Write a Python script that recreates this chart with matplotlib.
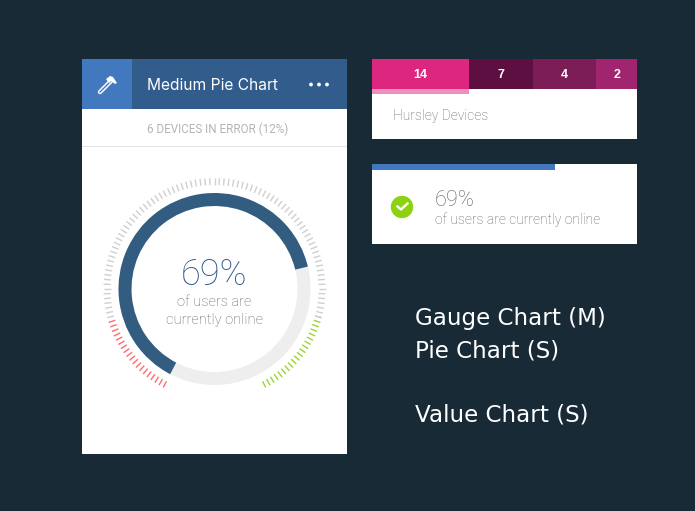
import numpy as np
import matplotlib
matplotlib.use('Agg')
import matplotlib.pyplot as plt
from matplotlib.patches import Rectangle, Circle, Polygon

W, H = 695, 511

# chart values
gauge_value = 69
gauge_label = '69%'
gauge_caption = 'of users are\ncurrently online'
gauge_sweep_deg = 229
error_text = '6 DEVICES IN ERROR (12%)'
title = 'Medium Pie Chart'

segment_labels = ['14', '7', '4', '2']
segment_shares = [36.6, 24.2, 23.8, 15.4]
segment_name = 'Hursley Devices'

value_percent = 69
value_caption = 'of users are currently online'

side_labels = ['Gauge Chart (M)', 'Pie Chart (S)', 'Value Chart (S)']

# colours
BG = '#172a36'
HEADER = '#325c8c'
ICON_BG = '#4178be'
RING = '#325c80'
TRACK = '#eeeeee'
GREY_TEXT = '#5f6669'
SEGMENT_COLORS = ['#dc267f', '#5d0f42', '#7c1d57', '#a0256e']

SANS = ['Roboto', 'Liberation Sans', 'DejaVu Sans']
BOLD = ['Liberation Sans', 'DejaVu Sans']
WIDE = ['Inter', 'DejaVu Sans']

fig = plt.figure(figsize=(W / 100, H / 100), dpi=100, facecolor=BG)
ax = fig.add_axes([0, 0, 1, 1])
ax.set_xlim(0, W)
ax.set_ylim(H, 0)
ax.axis('off')


def box(x, y, w, h, color, z=1):
    ax.add_patch(Rectangle((x, y), w, h, facecolor=color, edgecolor='none', zorder=z))


# main card
box(82, 59, 265, 395, 'white')
box(82, 59, 265, 50, HEADER, 2)
box(82, 59, 50, 50, ICON_BG, 3)
box(82, 146, 265, 1, '#e3e3e3', 2)

# hammer icon
ax.plot([100, 111], [92, 81], color='white', lw=3.2, solid_capstyle='round', zorder=4)
ax.plot([100, 111], [92, 81], color=ICON_BG, lw=1.0, zorder=5)
ax.add_patch(Polygon([[106, 79], [110, 76], [113, 77], [117, 83], [115, 84], [111, 81], [109, 83]],
                     facecolor='white', edgecolor='none', zorder=6))

ax.text(147, 85, title, color='white', fontsize=11.2, family=WIDE, ha='left', va='center', zorder=4)
for dot_x in [311, 319, 327]:
    ax.add_patch(Circle((dot_x, 84.5), 1.9, facecolor='white', edgecolor='none', zorder=4))
ax.text(218, 129, error_text, color='#b4b4b4', fontsize=8.4, family=SANS,
        ha='center', va='center', zorder=4)

# gauge, drawn on a polar axes centred on the ring
cx, cy, outer = 214.5, 289, 113
gauge = fig.add_axes([(cx - outer) / W, 1 - (cy + outer) / H, 2 * outer / W, 2 * outer / H],
                     projection='polar')
gauge.set_theta_zero_location('N')
gauge.set_theta_direction(-1)
gauge.set_ylim(0, outer)
gauge.axis('off')
gauge.patch.set_alpha(0)

start = 207.5
gauge.bar(np.pi, 13, width=2 * np.pi, bottom=83, color=TRACK, linewidth=0, zorder=1)
gauge.bar(np.radians(start + gauge_sweep_deg / 2), 13, width=np.radians(gauge_sweep_deg), bottom=83,
          color=RING, linewidth=0, zorder=2)

for d in np.arange(-255, 106, 2.5):
    a = d % 360
    if 153 <= a <= 207:
        continue
    if 106 < a < 153:
        col = '#9ad62e'
    elif 207 < a < 254:
        col = '#ff6b70'
    else:
        col = '#cfcfcf'
    gauge.vlines(np.radians(a), 104, 111, color=col, lw=1.0, zorder=1)

ax.text(214, 275, gauge_label, color='#2f5a8a', fontsize=26, family=SANS, fontweight='light',
        ha='center', va='center', zorder=6)
ax.text(214.5, 311, gauge_caption, color=GREY_TEXT, fontsize=10.5, family=SANS, fontweight='light',
        ha='center', va='center', linespacing=1.35, zorder=6)

# segment card
box(372, 89, 265, 50, 'white')
left = 372
total = sum(segment_shares)
for label, share, color in zip(segment_labels, segment_shares, SEGMENT_COLORS):
    seg_w = 265 * share / total
    box(left, 59, seg_w, 30, color, 2)
    ax.text(left + seg_w / 2, 75, label, color='white', fontsize=9, fontweight='bold', family=BOLD,
            ha='center', va='center', zorder=4)
    left += seg_w
box(372, 89, 265 * segment_shares[0] / total, 5, '#ee8fbd', 3)
ax.text(393, 116, segment_name, color=GREY_TEXT, fontsize=10, family=SANS, fontweight='light',
        ha='left', va='center', zorder=4)

# value card
box(372, 164, 265, 80, 'white')
box(372, 164, 265 * value_percent / 100, 6, ICON_BG, 2)
ax.add_patch(Circle((402, 207), 11.2, facecolor='#8cd211', edgecolor='none', zorder=3))
ax.plot([397.5, 401, 407.5], [206.5, 209.5, 203.5], color='white', lw=1.7, zorder=4)
ax.text(435, 200, f'{value_percent}%', color=GREY_TEXT, fontsize=15.6, family=SANS, fontweight='light',
        ha='left', va='center', zorder=4)
ax.text(435, 220, value_caption, color=GREY_TEXT, fontsize=10, family=SANS, fontweight='light',
        ha='left', va='center', zorder=4)

# side labels
for label, y in zip(side_labels, [319, 351, 415]):
    ax.text(415, y, label, color='white', fontsize=16.6, family=['DejaVu Sans'], fontweight='normal',
            ha='left', va='center', zorder=4)

fig.savefig('out.png', dpi=100, facecolor=BG)
